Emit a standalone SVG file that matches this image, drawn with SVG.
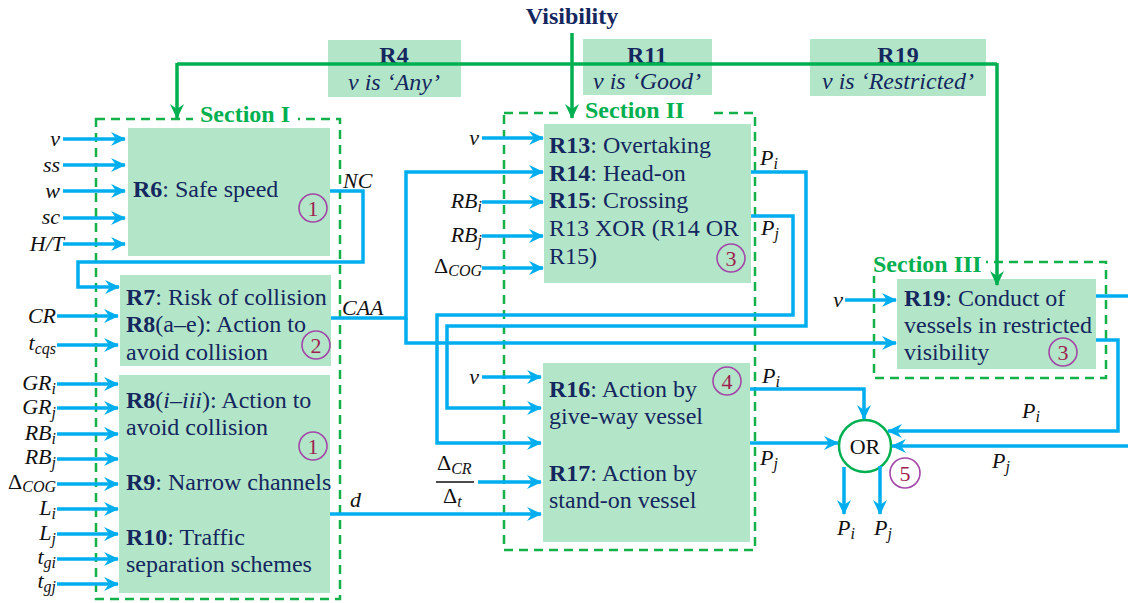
<svg xmlns="http://www.w3.org/2000/svg" width="1128" height="603" viewBox="0 0 1128 603">
<style>
.box{fill:#B3E6C9}
.sec{fill:none;stroke:#14B04A;stroke-width:2.5;stroke-dasharray:9 6}
text{font-family:"Liberation Serif","Times New Roman",Tinos,"DejaVu Serif",serif}
.t{font-size:24px;fill:#14275E}
.b{font-weight:bold}
.i{font-style:italic}
.sl{font-size:24px;font-weight:bold;fill:#00B050}
.m{font-size:22px;font-style:italic;fill:#111}
.s{font-size:16px}
.bl{fill:none;stroke:#00AEEF;stroke-width:3.5}
.ba{fill:none;stroke:#00AEEF;stroke-width:3.5;marker-end:url(#ab)}
.gl{fill:none;stroke:#00B050;stroke-width:3.5}
.ga{fill:none;stroke:#00B050;stroke-width:3.5;marker-end:url(#ag)}
.bd circle{fill:none;stroke:#A347A8;stroke-width:1.6}
.bd text{font-size:22px;fill:#9E1F4F;text-anchor:middle}
</style>
<defs>
<marker id="ab" markerUnits="userSpaceOnUse" markerWidth="15" markerHeight="15" viewBox="0 0 15 15" refX="14" refY="7.5" orient="auto"><path d="M0,0.5 L15,7.5 L0,14.5 L5,7.5 z" fill="#00AEEF"/></marker>
<marker id="ag" markerUnits="userSpaceOnUse" markerWidth="15" markerHeight="15" viewBox="0 0 15 15" refX="14" refY="7.5" orient="auto"><path d="M0,0.5 L15,7.5 L0,14.5 L5,7.5 z" fill="#00B050"/></marker>
</defs>
<rect width="1128" height="603" fill="#fff"/>

<g id="visibility"><text class="t b" x="572" y="24" text-anchor="middle">Visibility</text></g>
<g id="R4"><rect class="box" x="328" y="40" width="133" height="57"/><text class="t b" x="394" y="63" text-anchor="middle">R4</text><text class="t i" x="394" y="90" text-anchor="middle">v is ‘Any’</text></g>
<g id="R11"><rect class="box" x="583" y="39" width="129" height="56"/><text class="t b" x="647" y="63" text-anchor="middle">R11</text><text class="t i" x="647" y="89" text-anchor="middle">v is ‘Good’</text></g>
<g id="R19top"><rect class="box" x="810" y="39" width="176" height="57"/><text class="t b" x="898" y="63" text-anchor="middle">R19</text><text class="t i" x="898" y="89" text-anchor="middle">v is ‘Restricted’</text></g>

<g id="section1"><rect class="sec" x="96" y="119" width="244" height="480"/><rect x="193" y="106" width="105" height="24" fill="#fff"/><text class="sl" x="200" y="122">Section I</text></g>
<g id="section2"><rect class="sec" x="504" y="113" width="251" height="437"/><rect x="560" y="100" width="153" height="24" fill="#fff"/><text class="sl" x="585" y="118">Section II</text></g>
<g id="section3"><rect class="sec" x="874" y="262" width="232" height="116"/><rect x="866" y="250" width="120" height="26" fill="#fff"/><text class="sl" x="873" y="272">Section III</text></g>

<g id="R6"><rect class="box" x="128" y="128" width="202" height="128"/><text class="t" x="133" y="197"><tspan class="b">R6</tspan>: Safe speed</text></g>
<g id="R7R8"><rect class="box" x="120" y="275" width="211" height="91"/>
<text class="t" x="126" y="305"><tspan class="b">R7</tspan>: Risk of collision</text>
<text class="t" x="126" y="332"><tspan class="b">R8</tspan>(a–e): Action to</text>
<text class="t" x="126" y="360">avoid collision</text></g>
<g id="R8R9R10"><rect class="box" x="119" y="375" width="211" height="218"/>
<text class="t" x="126" y="408"><tspan class="b">R8</tspan>(<tspan class="i">i–iii</tspan>): Action to</text>
<text class="t" x="126" y="435">avoid collision</text>
<text class="t" x="126" y="490"><tspan class="b">R9</tspan>: Narrow channels</text>
<text class="t" x="126" y="545"><tspan class="b">R10</tspan>: Traffic</text>
<text class="t" x="126" y="572">separation schemes</text></g>
<g id="R13R14R15"><rect class="box" x="544" y="124" width="207" height="159"/>
<text class="t" x="549" y="153"><tspan class="b">R13</tspan>: Overtaking</text>
<text class="t" x="549" y="181"><tspan class="b">R14</tspan>: Head-on</text>
<text class="t" x="549" y="208"><tspan class="b">R15</tspan>: Crossing</text>
<text class="t" x="549" y="236">R13 XOR (R14 OR</text>
<text class="t" x="549" y="264">R15)</text></g>
<g id="R16R17"><rect class="box" x="543" y="363" width="207" height="179"/>
<text class="t" x="549" y="397"><tspan class="b">R16</tspan>: Action by</text>
<text class="t" x="549" y="424">give-way vessel</text>
<text class="t" x="549" y="481"><tspan class="b">R17</tspan>: Action by</text>
<text class="t" x="549" y="508">stand-on vessel</text></g>
<g id="R19"><rect class="box" x="897" y="279" width="199" height="90"/>
<text class="t" x="904" y="306"><tspan class="b">R19</tspan>: Conduct of</text>
<text class="t" x="904" y="333">vessels in restricted</text>
<text class="t" x="904" y="360">visibility</text></g>
<g id="OR"><circle cx="865" cy="446" r="26" fill="#fff" stroke="#00B050" stroke-width="2.5"/><text x="865" y="454" text-anchor="middle" font-size="22" fill="#111">OR</text></g>

<g id="badges" class="bd">
<circle cx="313" cy="208" r="14"/><text x="313" y="216">1</text>
<circle cx="316" cy="345" r="14"/><text x="316" y="353">2</text>
<circle cx="313" cy="446" r="14"/><text x="313" y="454">1</text>
<circle cx="731" cy="258" r="14"/><text x="731" y="266">3</text>
<circle cx="727" cy="381" r="14"/><text x="727" y="389">4</text>
<circle cx="1063" cy="352" r="14"/><text x="1063" y="360">3</text>
<circle cx="905" cy="473" r="15"/><text x="905" y="481">5</text>
</g>

<g id="connectors">
<path class="gl" d="M177 64H997"/>
<path class="ga" d="M177 63V118"/>
<path class="ga" d="M997 63V285"/>
<path class="ga" d="M572 33V118"/>
<path class="ba" d="M63 139H125"/><path class="ba" d="M63 165H125"/><path class="ba" d="M63 191H125"/><path class="ba" d="M63 218H125"/><path class="ba" d="M63 244H125"/>
<path class="ba" d="M330 191H363V262H78V287H119"/>
<path class="ba" d="M57 316H118"/><path class="ba" d="M57 345H118"/>
<path class="ba" d="M57 384H118"/><path class="ba" d="M57 408H118"/><path class="ba" d="M57 434H118"/><path class="ba" d="M57 459H118"/><path class="ba" d="M57 484H118"/><path class="ba" d="M57 509H118"/><path class="ba" d="M57 534H118"/><path class="ba" d="M57 559H118"/><path class="ba" d="M57 584H118"/>
<path class="ba" d="M331 318H406V172H543"/>
<path class="ba" d="M406 318V343H896"/>
<path class="ba" d="M330 514H541"/>
<path class="ba" d="M482 138H543"/><path class="ba" d="M482 202H543"/><path class="ba" d="M482 236H543"/><path class="ba" d="M482 268H543"/>
<path class="ba" d="M751 172H806V326H447V408H541"/>
<path class="ba" d="M751 216H793V315H437V443H541"/>
<path class="ba" d="M482 377H541"/>
<path class="ba" d="M478 482H541"/>
<path class="ba" d="M750 389H864V419"/>
<path class="ba" d="M750 443H838"/>
<path class="ba" d="M845 300H896"/>
<path class="bl" d="M1096 296H1128"/>
<path class="ba" d="M1096 340H1118V431H888"/>
<path class="ba" d="M1128 446H892"/>
<path class="ba" d="M844 467V514"/>
<path class="ba" d="M880 466V514"/>
</g>

<g id="labels">
<text class="m" x="60" y="146" text-anchor="end">v</text>
<text class="m" x="60" y="172" text-anchor="end">ss</text>
<text class="m" x="60" y="198" text-anchor="end">w</text>
<text class="m" x="60" y="224" text-anchor="end">sc</text>
<text class="m" x="64" y="251" text-anchor="end">H/T</text>
<text class="m" x="56" y="323" text-anchor="end">CR</text>
<text class="m" x="56" y="350" text-anchor="end">t<tspan class="s" dy="4">cqs</tspan></text>
<text class="m" x="56" y="390" text-anchor="end">GR<tspan class="s" dy="4">i</tspan></text>
<text class="m" x="56" y="414" text-anchor="end">GR<tspan class="s" dy="4">j</tspan></text>
<text class="m" x="56" y="440" text-anchor="end">RB<tspan class="s" dy="4">i</tspan></text>
<text class="m" x="56" y="464" text-anchor="end">RB<tspan class="s" dy="4">j</tspan></text>
<text class="m" x="56" y="489" text-anchor="end"><tspan font-style="normal">Δ</tspan><tspan class="s" dy="3">COG</tspan></text>
<text class="m" x="56" y="515" text-anchor="end">L<tspan class="s" dy="4">i</tspan></text>
<text class="m" x="56" y="540" text-anchor="end">L<tspan class="s" dy="4">j</tspan></text>
<text class="m" x="56" y="564" text-anchor="end">t<tspan class="s" dy="4">gi</tspan></text>
<text class="m" x="56" y="588" text-anchor="end">t<tspan class="s" dy="4">gj</tspan></text>
<text class="m" x="343" y="188">NC</text>
<text class="m" x="342" y="315">CAA</text>
<text class="m" x="350" y="507">d</text>
<text class="m" x="479" y="145" text-anchor="end">v</text>
<text class="m" x="482" y="208" text-anchor="end">RB<tspan class="s" dy="4">i</tspan></text>
<text class="m" x="482" y="242" text-anchor="end">RB<tspan class="s" dy="4">j</tspan></text>
<text class="m" x="482" y="273" text-anchor="end"><tspan font-style="normal">Δ</tspan><tspan class="s" dy="3">COG</tspan></text>
<text class="m" x="479" y="384" text-anchor="end">v</text>
<text class="m" x="437" y="470"><tspan font-style="normal">Δ</tspan><tspan class="s" dy="4">CR</tspan></text>
<path d="M436 482H474" stroke="#111" stroke-width="1.5"/>
<text class="m" x="443" y="503"><tspan font-style="normal">Δ</tspan><tspan class="s" dy="4">t</tspan></text>
<text class="m" x="843" y="307" text-anchor="end">v</text>
<text class="m" x="760" y="165">P<tspan class="s" dy="4">i</tspan></text>
<text class="m" x="761" y="235">P<tspan class="s" dy="4">j</tspan></text>
<text class="m" x="762" y="383">P<tspan class="s" dy="4">i</tspan></text>
<text class="m" x="760" y="465">P<tspan class="s" dy="4">j</tspan></text>
<text class="m" x="1022" y="418">P<tspan class="s" dy="4">i</tspan></text>
<text class="m" x="992" y="468">P<tspan class="s" dy="4">j</tspan></text>
<text class="m" x="837" y="535">P<tspan class="s" dy="4">i</tspan></text>
<text class="m" x="874" y="535">P<tspan class="s" dy="4">j</tspan></text>
</g>
</svg>
